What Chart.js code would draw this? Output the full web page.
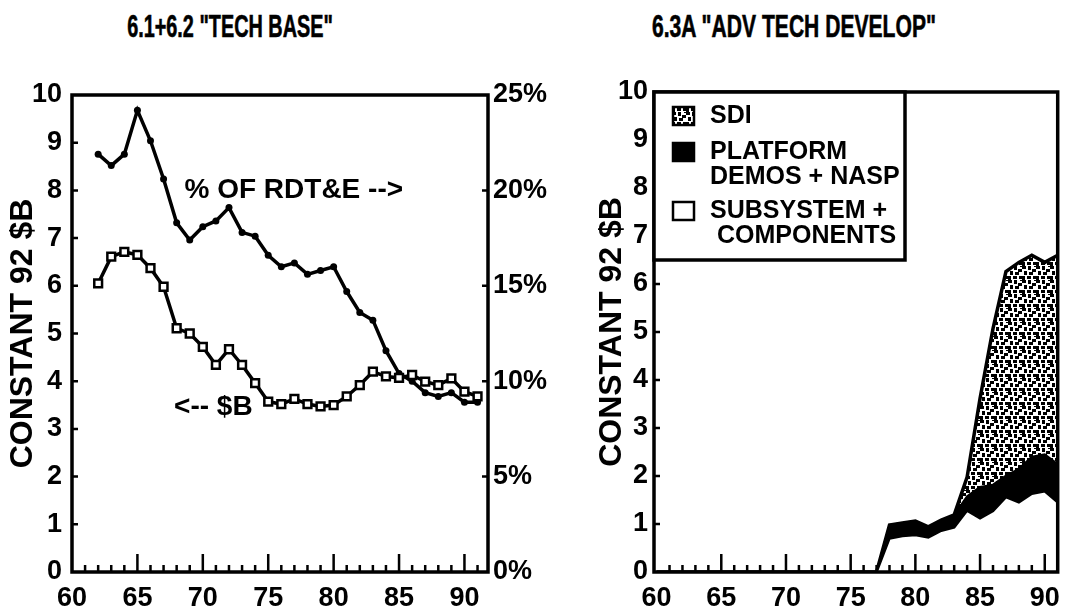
<!DOCTYPE html>
<html lang="en">
<head>
<meta charset="UTF-8">
<title>Tech Base / Adv Tech Develop</title>
<script src="https://cdn.jsdelivr.net/npm/chart.js"></script>
<style>
  body { margin: 0; background: #fff; font-family: "Liberation Sans", Arial, sans-serif; }
  #page { position: relative; width: 1070px; height: 611px; overflow: hidden; }
  .title { position: absolute; top: 9px; width: 400px; text-align: center; font-weight: bold; font-size: 31px; white-space: nowrap; -webkit-text-stroke: 0.6px #000; }
  .panel { position: absolute; top: 0; height: 611px; }
</style>
</head>
<body>
<div id="page">
  <div class="title" style="left:30px;transform:scaleX(0.64)">6.1+6.2 "TECH BASE"</div>
  <div class="title" style="left:588px;transform:scaleX(0.68)">6.3A "ADV TECH DEVELOP"</div>
  <div class="panel" style="left:0;width:560px"><canvas id="techBase"></canvas></div>
  <div class="panel" style="left:560px;width:510px"><canvas id="advTech"></canvas></div>
</div>

<script>
// ---- data: 6.1+6.2 tech base ----
const techYears = [62, 63, 64, 65, 66, 67, 68, 69, 70, 71, 72, 73, 74, 75, 76, 77, 78, 79, 80, 81, 82, 83, 84, 85, 86, 87, 88, 89, 90, 91];
const dollarsB  = [6.05, 6.61, 6.71, 6.65, 6.37, 5.98, 5.11, 5.0, 4.72, 4.34, 4.67, 4.34, 3.96, 3.57, 3.52, 3.63, 3.52, 3.47, 3.5, 3.68, 3.92, 4.2, 4.1, 4.07, 4.13, 3.99, 3.92, 4.06, 3.78, 3.68];
const pctRDTE   = [21.9, 21.3, 21.9, 24.2, 22.6, 20.6, 18.3, 17.4, 18.1, 18.4, 19.1, 17.8, 17.6, 16.6, 16.0, 16.2, 15.6, 15.8, 16.0, 14.7, 13.6, 13.2, 11.6, 10.4, 10.0, 9.4, 9.2, 9.4, 8.9, 8.9];

// ---- data: 6.3A adv tech develop (stacked) ----
const advYears  = [60, 61, 62, 63, 64, 65, 66, 67, 68, 69, 70, 71, 72, 73, 74, 75, 76, 77, 78, 79, 80, 81, 82, 83, 84, 85, 86, 87, 88, 89, 90, 91];
const subsystem = [0, 0, 0, 0, 0, 0, 0, 0, 0, 0, 0, 0, 0, 0, 0, 0, 0, 0, 0.70, 0.75, 0.77, 0.72, 0.86, 0.93, 1.28, 1.12, 1.27, 1.56, 1.45, 1.63, 1.68, 1.45];
const platform  = [0, 0, 0, 0, 0, 0, 0, 0, 0, 0, 0, 0, 0, 0, 0, 0, 0, 0, 0.28, 0.27, 0.29, 0.22, 0.22, 0.26, 0.30, 0.65, 0.55, 0.45, 0.70, 0.77, 0.77, 0.80];
const sdi       = [0, 0, 0, 0, 0, 0, 0, 0, 0, 0, 0, 0, 0, 0, 0, 0, 0, 0, 0, 0, 0, 0, 0, 0, 0.40, 1.85, 3.25, 4.25, 4.30, 4.20, 4.00, 4.35];

// axis labels
const yearLabels = [60, 65, 70, 75, 80, 85, 90];
const yTitle = 'CONSTANT 92 $B';
const notes = [
  { text: '% OF RDT&E -->', x: 68.6, y: 8.0 },
  { text: '<-- $B', x: 67.8, y: 3.46 }
];
const keyEntries = [
  { lines: ['SDI'], ds: 2, dy: 24 },
  { lines: ['PLATFORM', 'DEMOS + NASP'], ds: 1, dy: 60 },
  { lines: ['SUBSYSTEM +', ' COMPONENTS'], ds: 0, dy: 119 }
];

const FONT = '"Liberation Sans", Arial, sans-serif';
Chart.defaults.color = '#000';
Chart.defaults.font.family = FONT;
Chart.defaults.font.weight = 'bold';

const pairs = (xs, ys) => xs.map((x, i) => ({ x: x, y: ys[i] }));

// speckled fill for the SDI band
function stipple() {
  const c = document.createElement('canvas');
  c.width = c.height = 14;
  const g = c.getContext('2d');
  g.fillStyle = '#fff';
  g.fillRect(0, 0, 14, 14);
  g.fillStyle = '#000';
  [[0, 0, 4, 3], [6, 0, 3, 4], [10, 3, 4, 3], [2, 5, 3, 4], [7, 6, 4, 3], [0, 10, 3, 4], [5, 10, 4, 3], [11, 10, 3, 3], [12, 0, 2, 1]]
    .forEach(r => g.fillRect(r[0], r[1], r[2], r[3]));
  return g.createPattern(c, 'repeat');
}
const sdiFill = stipple();

// box round the plot plus the small inward tick marks
const frame = {
  id: 'frame',
  afterDatasetsDraw(chart) {
    const { ctx, chartArea: a, scales } = chart;
    ctx.save();
    ctx.strokeStyle = '#000';
    ctx.lineWidth = 2.5;
    ctx.beginPath();
    const x = scales.x;
    for (let yr = Math.ceil(x.min); yr <= Math.floor(x.max); yr++) {
      const px = x.getPixelForValue(yr);
      if (px - a.left < 5 || a.right - px < 5) continue;
      const len = yr % 5 === 0 ? 18 : 7;
      ctx.moveTo(px, a.bottom);
      ctx.lineTo(px, a.bottom - len);
    }
    Object.values(scales).filter(s => s.axis === 'y').forEach(s => {
      s.ticks.forEach(t => {
        if (t.value <= s.min || t.value >= s.max) return;
        const py = s.getPixelForValue(t.value);
        if (s.position === 'left') { ctx.moveTo(a.left, py); ctx.lineTo(a.left + 6, py); }
        else { ctx.moveTo(a.right, py); ctx.lineTo(a.right - 6, py); }
      });
    });
    ctx.stroke();
    ctx.lineWidth = 3.5;
    ctx.strokeRect(a.left, a.top, a.width, a.height);
    ctx.restore();
  }
};

// free text labels placed in data space
const textNotes = {
  id: 'textNotes',
  afterDraw(chart) {
    const { ctx, scales } = chart;
    ctx.save();
    ctx.font = 'bold 28px ' + FONT;
    ctx.textBaseline = 'middle';
    ctx.fillStyle = '#000';
    notes.forEach(n => ctx.fillText(n.text, scales.x.getPixelForValue(n.x), scales.y.getPixelForValue(n.y)));
    ctx.restore();
  }
};

// boxed key in the top-left corner of the stacked chart
const keyBox = {
  id: 'keyBox',
  afterDraw(chart) {
    const { ctx, chartArea: a } = chart;
    const ds = chart.data.datasets;
    ctx.save();
    ctx.fillStyle = '#fff';
    ctx.fillRect(a.left, a.top, 251, 168);
    ctx.strokeStyle = '#000';
    ctx.lineWidth = 3.5;
    ctx.strokeRect(a.left, a.top, 251, 168);
    ctx.font = 'bold 25px ' + FONT;
    ctx.textBaseline = 'middle';
    keyEntries.forEach(k => {
      const y0 = a.top + k.dy;
      ctx.fillStyle = ds[k.ds].backgroundColor;
      ctx.fillRect(a.left + 19, y0 - 9, 21, 18);
      ctx.lineWidth = 2.5;
      ctx.strokeRect(a.left + 19, y0 - 9, 21, 18);
      ctx.fillStyle = '#000';
      k.lines.forEach((t, i) => ctx.fillText(t, a.left + 56, y0 + i * 25));
    });
    ctx.restore();
  }
};

const tickFont = { size: 27, weight: 'bold' };
const xAxis = (min, max) => ({
  type: 'linear', min: min, max: max,
  grid: { display: false, drawTicks: false },
  border: { display: false },
  ticks: { font: tickFont, padding: 10, maxRotation: 0 },
  afterBuildTicks: s => { s.ticks = yearLabels.map(v => ({ value: v })); },
  afterFit: s => { s.height = 39; }
});

new Chart(document.getElementById('techBase'), {
  type: 'line',
  data: {
    datasets: [
      {
        label: '$B', data: pairs(techYears, dollarsB), yAxisID: 'y',
        borderColor: '#000', borderWidth: 3.5, tension: 0,
        pointStyle: 'rect', pointRadius: 5.5, pointBackgroundColor: '#fff',
        pointBorderColor: '#000', pointBorderWidth: 2.5
      },
      {
        label: '% OF RDT&E', data: pairs(techYears, pctRDTE), yAxisID: 'y1',
        borderColor: '#000', borderWidth: 3.5, tension: 0,
        pointRadius: 3.5, pointBackgroundColor: '#000', pointBorderWidth: 0
      }
    ]
  },
  options: {
    responsive: true, maintainAspectRatio: false, animation: false,
    layout: { padding: { top: 95, right: 0, bottom: 0, left: 0 } },
    plugins: { legend: { display: false }, tooltip: { enabled: false } },
    scales: {
      x: xAxis(60, 91.8),
      y: {
        position: 'left', min: 0, max: 10,
        grid: { display: false, drawTicks: false }, border: { display: false },
        ticks: { stepSize: 1, padding: 10, font: tickFont },
        title: { display: true, text: yTitle, font: { size: 32, weight: 'bold' }, padding: { top: 4, bottom: 0 } },
        afterFit: s => { s.width = 72; }
      },
      y1: {
        position: 'right', min: 0, max: 25,
        grid: { display: false, drawTicks: false }, border: { display: false },
        ticks: { stepSize: 5, padding: 5, font: tickFont, callback: v => v + '%' },
        afterFit: s => { s.width = 72; }
      }
    }
  },
  plugins: [frame, textNotes]
});

new Chart(document.getElementById('advTech'), {
  type: 'line',
  data: {
    datasets: [
      { label: 'SUBSYSTEM + COMPONENTS', data: pairs(advYears, subsystem), fill: 'origin',
        backgroundColor: '#fff', borderColor: '#000', borderWidth: 2.5, pointRadius: 0 },
      { label: 'PLATFORM DEMOS + NASP', data: pairs(advYears, platform), fill: '-1',
        backgroundColor: '#000', borderColor: '#000', borderWidth: 2, pointRadius: 0 },
      { label: 'SDI', data: pairs(advYears, sdi), fill: '-1',
        backgroundColor: sdiFill, borderColor: '#000', borderWidth: 3.5, pointRadius: 0 }
    ]
  },
  options: {
    responsive: true, maintainAspectRatio: false, animation: false,
    layout: { padding: { top: 92, right: 7, bottom: 0, left: 0 } },
    plugins: { legend: { display: false }, tooltip: { enabled: false } },
    scales: {
      x: xAxis(59.8, 91),
      y: {
        position: 'left', min: 0, max: 10, stacked: true,
        grid: { display: false, drawTicks: false }, border: { display: false },
        ticks: { stepSize: 1, padding: 6, font: tickFont },
        title: { display: true, text: yTitle, font: { size: 32, weight: 'bold' }, padding: { top: 33, bottom: 0 } },
        afterFit: s => { s.width = 94; }
      }
    }
  },
  plugins: [frame, keyBox]
});
</script>
</body>
</html>
